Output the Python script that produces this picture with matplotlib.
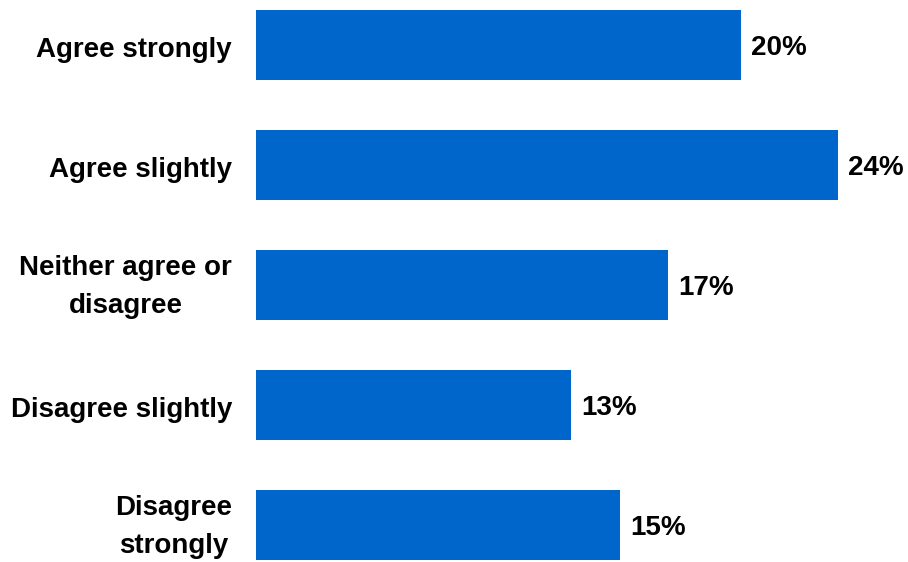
import matplotlib
matplotlib.use("Agg")
import matplotlib.pyplot as plt
from matplotlib.transforms import offset_copy

# Survey responses, percentage of respondents
categories = ["Agree strongly", "Agree slightly", "Neither agree or\ndisagree",
              "Disagree slightly", "Disagree\nstrongly"]
values = [20, 24, 17, 13, 15]
value_labels = ["20%", "24%", "17%", "13%", "15%"]

BAR_COLOR = "#0066CC"
plt.rcParams["font.family"] = ["Liberation Sans", "DejaVu Sans"]

W, H = 908, 562
fig = plt.figure(figsize=(W / 100, H / 100), dpi=100)
ax = fig.add_axes([256 / W, 0, 1 - 256 / W, 1])

ypos = list(range(len(categories)))
ax.barh(ypos, values, height=70 / 120, color=BAR_COLOR, edgecolor="none")

ax.set_xlim(0, (W - 256) / 24.25)
ax.set_ylim((H - 45) / 120, -45 / 120)

# value labels: cap height centred on the bar
for y, v, lab in zip(ypos, values, value_labels):
    ax.annotate(lab, xy=(v, y), xytext=(7.2, -7.2), textcoords="offset points",
                ha="left", va="baseline", fontsize=20, fontweight="bold")

# category labels drawn by hand so wrapped lines stay centred on the bar
for y, cat in zip(ypos, categories):
    dy = -2 if "\n" in cat else -5
    tr = offset_copy(ax.get_yaxis_transform(), fig=fig, x=-24, y=dy, units="dots")
    ax.text(0, y, cat, transform=tr, ha="right", va="center",
            multialignment="center", linespacing=1.58,
            fontsize=20, fontweight="bold")

ax.set_yticks([])
ax.set_xticks([])
for s in ax.spines.values():
    s.set_visible(False)

fig.savefig("out.png", dpi=100)
